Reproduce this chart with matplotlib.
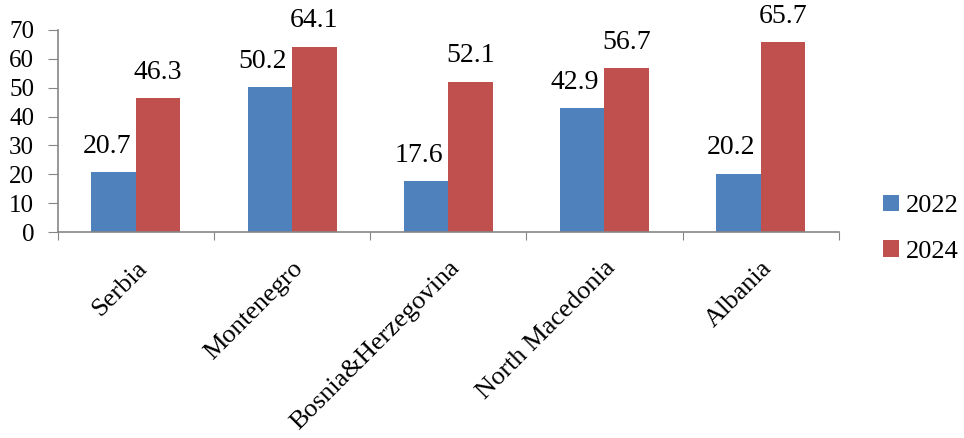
import matplotlib
matplotlib.use("Agg")
import matplotlib.pyplot as plt
import numpy as np

plt.rcParams['font.family'] = ['Liberation Serif', 'DejaVu Serif']

countries = ['Serbia', 'Montenegro', 'Bosnia&Herzegovina', 'North Macedonia', 'Albania']
years = ['2022', '2024']
values_2022 = [20.7, 50.2, 17.6, 42.9, 20.2]
values_2024 = [46.3, 64.1, 52.1, 56.7, 65.7]

colors = ['#4F81BD', '#C0504D']
axis_gray = '#868686'

fig = plt.figure(figsize=(9.64, 4.38), dpi=100)
ax = fig.add_axes([0.060, 0.470, 0.810, 0.462])

x = np.arange(len(countries))
width = 0.285
series = [values_2022, values_2024]
label_shift = [-5, 0]  # 2022 labels sit a little left of their bars
for i, (vals, year, col) in enumerate(zip(series, years, colors)):
    offset = (i - 0.5) * width
    bars = ax.bar(x + offset, vals, width, color=col, label=year, zorder=2)
    for b, v in zip(bars, vals):
        ax.annotate(f'{v:.1f}', (b.get_x() + b.get_width() / 2, v),
                    xytext=(label_shift[i], 14), textcoords='offset points',
                    ha='center', va='baseline', fontsize=20)

ax.set_xlim(-0.5, len(countries) - 0.5)
ax.set_ylim(0, 70)
ax.set_yticks(range(0, 71, 10))
# group boundaries carry the tick marks, names sit under the group centres
ax.set_xticks(np.arange(-0.5, len(countries)), minor=False)
ax.set_xticklabels([])
ax.set_xticks(x, minor=True)
ax.set_xticklabels(countries, minor=True, rotation=45, ha='right',
                   rotation_mode='anchor', fontsize=19)
ax.tick_params(axis='x', which='minor', length=0, pad=18)
ax.tick_params(axis='x', which='major', length=6, color=axis_gray, direction='out')
ax.tick_params(axis='y', length=7, color=axis_gray, labelsize=18, pad=10)

for side in ['top', 'right']:
    ax.spines[side].set_visible(False)
for side in ['left', 'bottom']:
    ax.spines[side].set_color(axis_gray)
    ax.spines[side].set_linewidth(1.2)

fig.legend(loc='center left', bbox_to_anchor=(0.916, 0.478), frameon=False,
           fontsize=19, handlelength=0.6, handleheight=0.6, handletextpad=0.25,
           labelspacing=0.85, borderaxespad=0, borderpad=0)

fig.savefig('out.png', dpi=100)
